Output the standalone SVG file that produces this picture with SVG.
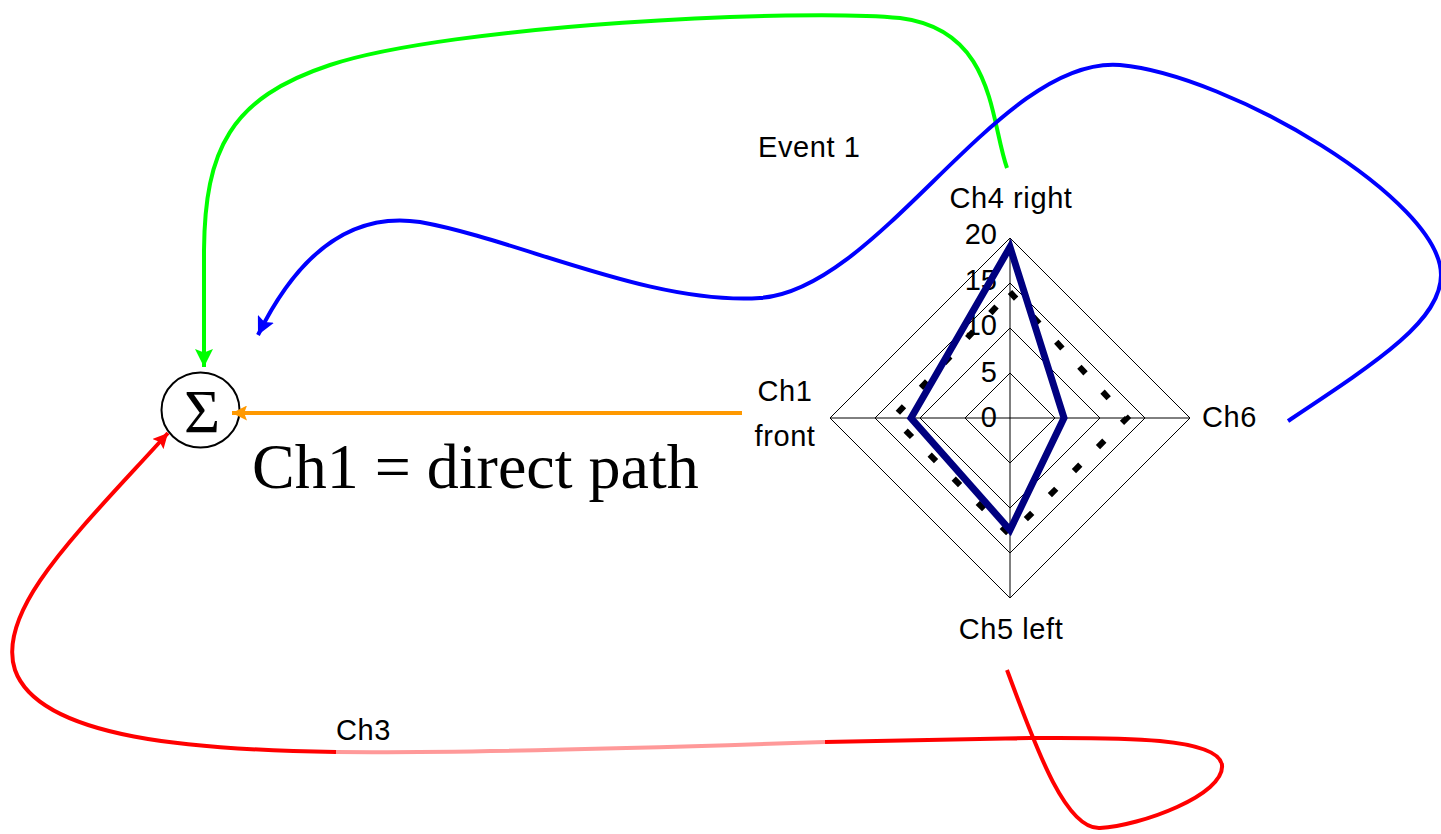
<svg xmlns="http://www.w3.org/2000/svg" width="1441" height="834" viewBox="0 0 1441 834">
<style>
.lbl{font-family:"Liberation Sans",Arial,sans-serif;font-size:29px;fill:#000;letter-spacing:0.6px}
.num{font-family:"Liberation Sans",Arial,sans-serif;font-size:29px;fill:#000;text-anchor:end}
.serif{font-family:"Liberation Serif","Times New Roman",serif;fill:#000}
.grid{fill:none;stroke:#000;stroke-width:1}
.conn{fill:none;stroke-width:4;stroke-linecap:butt}
</style>
<defs>
<marker id="ag" viewBox="0 0 16 16" markerUnits="userSpaceOnUse" markerWidth="18" markerHeight="18" refX="16" refY="8" orient="auto"><path d="M0,0 L16,8 L0,16 L3,8 z" fill="#00FF00"/></marker>
<marker id="ab" viewBox="0 0 16 16" markerUnits="userSpaceOnUse" markerWidth="18" markerHeight="18" refX="16" refY="8" orient="auto"><path d="M0,0 L16,8 L0,16 L3,8 z" fill="#0000FF"/></marker>
<marker id="ar" viewBox="0 0 16 16" markerUnits="userSpaceOnUse" markerWidth="15" markerHeight="15" refX="16" refY="8" orient="auto"><path d="M0,0 L16,8 L0,16 L3,8 z" fill="#FF0000"/></marker>
<marker id="ao" viewBox="0 0 16 16" markerUnits="userSpaceOnUse" markerWidth="15" markerHeight="15" refX="16" refY="8" orient="auto"><path d="M0,0 L16,8 L0,16 L3,8 z" fill="#FF9900"/></marker>
</defs>
<rect width="1441" height="834" fill="#fff"/>

<g id="radar-chart">
  <g id="grid">
    <polygon class="grid" points="1010,373 1055,418 1010,463 965,418"/>
    <polygon class="grid" points="1010,328 1100,418 1010,508 920,418"/>
    <polygon class="grid" points="1010,283 1145,418 1010,553 875,418"/>
    <polygon class="grid" points="1010,238 1190,418 1010,598 830,418"/>
    <line class="grid" x1="1010" y1="238" x2="1010" y2="598"/>
    <line class="grid" x1="830" y1="418" x2="1190" y2="418"/>
  </g>
  <g id="axis-values">
    <text class="num" x="997" y="244">20</text>
    <text class="num" x="997" y="290">15</text>
    <text class="num" x="997" y="335">10</text>
    <text class="num" x="997" y="382">5</text>
    <text class="num" x="997" y="427">0</text>
  </g>
  <polygon id="series-dashed" points="1010,292 1127,418 1010,535 893,418" fill="none" stroke="#000" stroke-width="6" stroke-dasharray="9 25"/>
  <polygon id="series-solid" points="1010,247 1064,418 1010,530 911,418" fill="none" stroke="#000080" stroke-width="7" stroke-linejoin="miter"/>
  <text id="lbl-ch4" class="lbl" x="1011" y="208" text-anchor="middle">Ch4 right</text>
  <text id="lbl-ch6" class="lbl" x="1202" y="427">Ch6</text>
  <text id="lbl-ch5" class="lbl" x="1011" y="639" text-anchor="middle">Ch5 left</text>
  <text id="lbl-ch1" class="lbl" text-anchor="middle"><tspan x="785" y="401">Ch1</tspan><tspan x="785" y="446">front</tspan></text>
</g>

<g id="sum-node">
  <ellipse cx="200.5" cy="410" rx="39" ry="37.5" fill="#fff" stroke="#000" stroke-width="2"/>
  <text class="serif" x="202" y="432" font-size="62" text-anchor="middle">Σ</text>
</g>

<text id="event-label" class="lbl" x="758" y="157">Event 1</text>
<text id="ch3-label" class="lbl" x="336" y="740">Ch3</text>
<text id="direct-label" class="serif" x="252" y="488" font-size="64">Ch1 = direct path</text>

<g id="connectors">
  <path id="c-green" class="conn" stroke="#00FF00" d="M1007,168 C990,120 995,30 900,18 C800,8 450,25 330,65 C230,98 205,150 204,250 L204,367" marker-end="url(#ag)"/>
  <path id="c-blue" class="conn" stroke="#0000FF" d="M1288,421 C1380,360 1441,320 1441,275 C1441,200 1230,75 1120,65 C1000,55 880,290 760,298 C650,305 520,240 420,222 C340,210 290,270 258,335" marker-end="url(#ab)"/>
  <path id="c-orange" class="conn" stroke="#FF9900" d="M742,413 L232,413" marker-end="url(#ao)"/>
  <path id="c-red-a" class="conn" stroke="#FF0000" d="M1007,670 C1035,745 1065,830 1100,828 C1140,826 1225,795 1222,765 C1218,735 1100,738 1030,738 L825,742"/>
  <path id="c-red-pink" class="conn" stroke="#FF9999" d="M825,742 C650,748 450,753 336,752"/>
  <path id="c-red-b" class="conn" stroke="#FF0000" d="M336,752 C200,750 40,740 15,670 C-5,610 80,530 168,433" marker-end="url(#ar)"/>
</g>
</svg>
